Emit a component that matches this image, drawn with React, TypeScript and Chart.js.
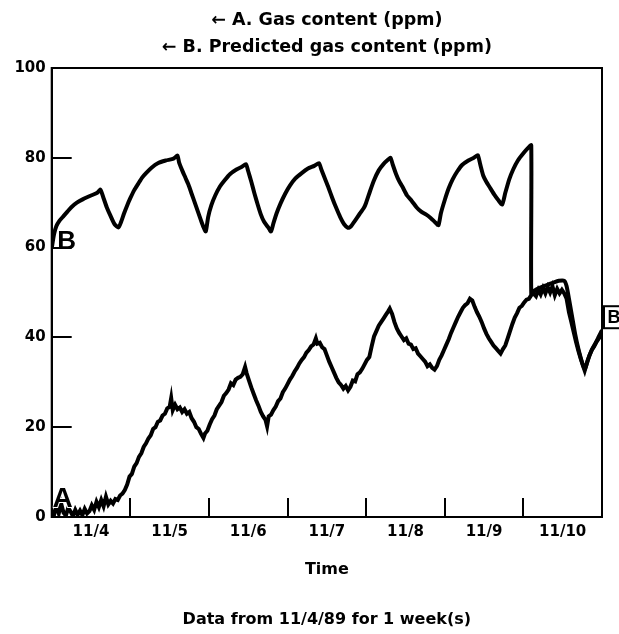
import React, { useEffect, useRef } from 'react';
import { Chart, registerables } from 'chart.js';

Chart.register(...registerables);

// ---- text ----
const titleLines = ['\u2190 A. Gas content (ppm)', '\u2190 B. Predicted gas content (ppm)'];
const xAxisTitle = 'Time';
const footerText = 'Data from 11/4/89 for 1 week(s)';
const seriesNames = ['A', 'B'];

// ---- axes ----
const dayLabels = ['11/4', '11/5', '11/6', '11/7', '11/8', '11/9', '11/10'];
const dayLabelPositions = [0.5, 1.5, 2.5, 3.5, 4.5, 5.5, 6.5];
const yTicks = [0, 20, 40, 60, 80, 100];

// ---- series A: measured gas content (days since 11/4 00:00, ppm) ----
const aTime = [
  0.00, 0.03, 0.06, 0.09, 0.12, 0.15, 0.18, 0.21, 0.24, 0.27, 0.30, 0.33, 0.36, 0.39, 0.42, 0.45,
  0.48, 0.51, 0.54, 0.57, 0.60, 0.63, 0.66, 0.69, 0.72, 0.75, 0.78, 0.81, 0.84, 0.87, 0.90, 0.93,
  0.96, 0.99, 1.02, 1.05, 1.08, 1.11, 1.14, 1.17, 1.20, 1.23, 1.26, 1.29, 1.32, 1.35, 1.38, 1.41,
  1.44, 1.47, 1.50, 1.52, 1.54, 1.57, 1.60, 1.63, 1.66, 1.69, 1.72, 1.75, 1.78, 1.81, 1.84, 1.87,
  1.90, 1.93, 1.95, 1.98, 2.01, 2.04, 2.07, 2.10, 2.13, 2.16, 2.19, 2.22, 2.25, 2.28, 2.31, 2.34,
  2.37, 2.40, 2.43, 2.46, 2.48, 2.51, 2.54, 2.57, 2.60, 2.63, 2.66, 2.69, 2.72, 2.74, 2.76, 2.79,
  2.82, 2.85, 2.88, 2.91, 2.94, 2.97, 3.00, 3.03, 3.06, 3.09, 3.12, 3.15, 3.18, 3.21, 3.24, 3.27,
  3.30, 3.33, 3.36, 3.38, 3.41, 3.44, 3.47, 3.50, 3.53, 3.56, 3.59, 3.62, 3.65, 3.68, 3.71, 3.74,
  3.77, 3.80, 3.83, 3.86, 3.89, 3.92, 3.95, 3.98, 4.01, 4.04, 4.07, 4.10, 4.13, 4.16, 4.19, 4.22,
  4.25, 4.28, 4.30, 4.33, 4.36, 4.39, 4.42, 4.45, 4.48, 4.51, 4.54, 4.57, 4.60, 4.63, 4.66, 4.69,
  4.72, 4.75, 4.78, 4.81, 4.84, 4.87, 4.90, 4.93, 4.96, 4.99, 5.02, 5.05, 5.08, 5.11, 5.14, 5.17,
  5.20, 5.23, 5.26, 5.29, 5.32, 5.35, 5.38, 5.41, 5.44, 5.47, 5.50, 5.53, 5.56, 5.59, 5.62, 5.65,
  5.68, 5.71, 5.74, 5.77, 5.80, 5.83, 5.86, 5.89, 5.92, 5.95, 5.98, 6.01, 6.04, 6.07, 6.10, 6.13,
  6.16, 6.19, 6.22, 6.25, 6.28, 6.31, 6.34, 6.37, 6.40, 6.43, 6.46, 6.49, 6.52, 6.55, 6.58, 6.61,
  6.64, 6.67, 6.70, 6.73, 6.76, 6.78, 6.81, 6.84, 6.87, 6.90, 6.93, 6.96, 7.00,
];
const aValue = [
  1.5, 0.5, 2.5, 0.8, 3.0, 1.0, 0.3, 2.0, 1.2, 0.2, 1.6, 0.5, 1.4, 0.4, 1.8, 0.8,
  1.3, 2.6, 1.6, 3.4, 2.2, 3.8, 2.4, 4.5, 2.8, 3.6, 3.0, 4.0, 3.8, 4.8, 5.2, 6.0,
  7.2, 9.0, 9.6, 11.2, 12.0, 13.4, 14.2, 15.6, 16.4, 17.5, 18.2, 19.6, 20.0, 21.2, 21.5, 22.6,
  23.0, 24.2, 24.5, 26.5, 23.8, 25.0, 24.0, 24.4, 23.4, 24.0, 23.0, 23.4, 22.0, 21.2, 20.0, 19.6,
  18.5, 17.6, 18.6, 19.2, 20.6, 21.8, 22.6, 24.0, 24.8, 25.6, 27.0, 27.6, 28.4, 29.8, 29.4, 30.6,
  31.0, 31.2, 31.8, 33.4, 32.0, 30.4, 28.8, 27.4, 26.0, 24.8, 23.4, 22.4, 21.6, 20.2, 22.4, 22.8,
  23.8, 24.6, 25.8, 26.4, 27.8, 28.6, 29.6, 30.6, 31.4, 32.4, 33.2, 34.2, 35.0, 35.6, 36.6, 37.2,
  38.0, 38.4, 39.8, 38.6, 38.8, 37.8, 37.4, 36.0, 34.6, 33.4, 32.2, 31.0, 30.0, 29.4, 28.6, 29.2,
  28.2, 29.0, 30.4, 30.2, 31.8, 32.2, 33.0, 34.0, 35.0, 35.6, 38.0, 40.2, 41.4, 42.6, 43.4, 44.2,
  45.0, 45.8, 46.4, 45.2, 43.4, 42.0, 41.0, 40.2, 39.4, 39.8, 38.6, 38.4, 37.4, 37.6, 36.4, 35.8,
  35.2, 34.6, 33.6, 34.0, 33.2, 32.8, 33.6, 35.0, 36.0, 37.2, 38.4, 39.6, 41.0, 42.2, 43.4, 44.6,
  45.6, 46.6, 47.2, 47.6, 48.6, 48.2, 46.8, 45.6, 44.6, 43.4, 42.0, 40.8, 39.8, 39.0, 38.2, 37.6,
  37.0, 36.4, 37.4, 38.2, 39.8, 41.4, 43.0, 44.4, 45.4, 46.6, 47.0, 47.8, 48.4, 48.6, 49.4, 49.8,
  49.2, 50.6, 49.6, 51.0, 49.8, 51.2, 50.0, 51.4, 49.4, 50.8, 49.8, 50.6, 49.8, 48.6, 45.6, 43.4,
  41.2, 39.0, 37.0, 35.2, 33.6, 32.6, 34.4, 36.0, 37.2, 38.0, 39.0, 39.8, 40.8,
];

// ---- series B: predicted gas content ----
const bTime = [
  0.00, 0.03, 0.06, 0.10, 0.15, 0.20, 0.25, 0.32, 0.40, 0.50, 0.58, 0.62, 0.66, 0.70, 0.75, 0.80,
  0.85, 0.88, 0.92, 0.96, 1.00, 1.05, 1.10, 1.15, 1.20, 1.27, 1.35, 1.45, 1.55, 1.60, 1.62, 1.66,
  1.70, 1.74, 1.78, 1.82, 1.86, 1.90, 1.93, 1.96, 1.99, 2.03, 2.08, 2.14, 2.20, 2.27, 2.35, 2.42,
  2.47, 2.50, 2.54, 2.58, 2.62, 2.66, 2.70, 2.75, 2.79, 2.82, 2.86, 2.91, 2.97, 3.03, 3.10, 3.18,
  3.26, 3.34, 3.40, 3.43, 3.47, 3.52, 3.57, 3.62, 3.67, 3.72, 3.77, 3.80, 3.85, 3.92, 3.97, 4.00,
  4.05, 4.10, 4.16, 4.22, 4.28, 4.31, 4.34, 4.38, 4.42, 4.46, 4.52, 4.58, 4.64, 4.70, 4.76, 4.82,
  4.88, 4.92, 4.95, 5.00, 5.05, 5.10, 5.16, 5.22, 5.30, 5.37, 5.42, 5.45, 5.49, 5.53, 5.58, 5.63,
  5.68, 5.73, 5.77, 5.82, 5.87, 5.93, 6.00, 6.06, 6.10, 6.10, 6.14, 6.20, 6.26, 6.32, 6.38, 6.45,
  6.52, 6.55, 6.58, 6.62, 6.66, 6.70, 6.74, 6.78, 6.82, 6.87, 6.92, 6.96, 7.00,
];
const bValue = [
  59.8, 63.0, 64.8, 66.0, 67.0, 68.0, 69.0, 70.0, 70.8, 71.6, 72.2, 72.9, 71.0, 69.0, 67.0, 65.2,
  64.5, 65.6, 67.6, 69.4, 71.0, 72.8, 74.2, 75.6, 76.6, 77.8, 78.8, 79.4, 79.8, 80.5, 79.0, 77.2,
  75.6, 74.0, 72.0, 70.0, 68.0, 66.0, 64.6, 63.6, 66.8, 69.4, 71.6, 73.6, 75.0, 76.4, 77.4, 78.0,
  78.6, 77.0, 74.6, 72.0, 69.6, 67.4, 65.8, 64.6, 63.6, 65.4, 67.6, 69.8, 72.0, 73.8, 75.4, 76.6,
  77.6, 78.2, 78.8, 77.4, 75.6, 73.4, 71.0, 68.8, 66.8, 65.2, 64.4, 64.6, 65.8, 67.6, 68.8, 70.0,
  72.6, 75.0, 77.2, 78.6, 79.6, 80.0, 78.4, 76.4, 74.8, 73.6, 71.6, 70.4, 69.0, 68.0, 67.4, 66.6,
  65.6, 65.0, 67.6, 70.6, 73.2, 75.2, 77.0, 78.4, 79.4, 80.0, 80.6, 78.6, 76.0, 74.6, 73.2, 71.8,
  70.6, 69.6, 72.2, 75.2, 77.4, 79.4, 81.0, 82.2, 82.8, 49.8, 50.4, 51.0, 51.4, 51.8, 52.2, 52.6,
  52.6, 51.4, 48.6, 44.6, 40.6, 37.4, 34.8, 32.8, 35.0, 37.2, 38.8, 40.2, 41.6,
];

const INK = '#000000';
const FONT = 'DejaVu Sans';

const framePlugin = {
  id: 'frame',
  afterDraw(chart: any) {
    const { ctx, chartArea } = chart;
    ctx.save();
    ctx.strokeStyle = INK;
    ctx.lineWidth = 2;
    ctx.strokeRect(chartArea.left, chartArea.top, chartArea.right - chartArea.left, chartArea.bottom - chartArea.top);
    ctx.restore();
  },
};

const seriesLabelPlugin = {
  id: 'seriesLabels',
  afterDatasetsDraw(chart: any) {
    const { ctx } = chart;
    const xs = chart.scales.x;
    const ys = chart.scales.y;
    ctx.save();
    ctx.fillStyle = INK;
    ctx.textAlign = 'center';
    ctx.textBaseline = 'middle';
    // A at start of series A (white halo so it reads over the noisy trace)
    const ax = xs.getPixelForValue(aTime[0]);
    const ay = ys.getPixelForValue(aValue[0]);
    ctx.font = 'bold 28px "Liberation Sans"';
    ctx.lineWidth = 2;
    ctx.strokeStyle = '#ffffff';
    ctx.strokeText(seriesNames[0], ax + 11, ay - 11);
    ctx.fillText(seriesNames[0], ax + 11, ay - 11);
    // B at start of series B
    const bx = xs.getPixelForValue(bTime[0]);
    const by = ys.getPixelForValue(bValue[0]);
    ctx.font = 'bold 26px "Liberation Sans"';
    ctx.fillText(seriesNames[1], bx + 15, by - 7);
    // boxed B at end of series B
    const ex = xs.getPixelForValue(bTime[bTime.length - 1]);
    const ey = ys.getPixelForValue(bValue[bValue.length - 1]);
    ctx.fillStyle = '#ffffff';
    ctx.fillRect(ex + 2, ey - 24, 20, 22);
    ctx.strokeStyle = INK;
    ctx.lineWidth = 2;
    ctx.strokeRect(ex + 2, ey - 24, 20, 22);
    ctx.fillStyle = INK;
    ctx.font = 'bold 18px "Liberation Sans"';
    ctx.fillText(seriesNames[1], ex + 12, ey - 12);
    ctx.restore();
  },
};

export default function App() {
  const canvasRef = useRef<HTMLCanvasElement | null>(null);

  useEffect(() => {
    const canvas = canvasRef.current;
    if (!canvas) return;
    const dataA = aTime.map((t, i) => ({ x: t, y: aValue[i] }));
    const dataB = bTime.map((t, i) => ({ x: t, y: bValue[i] }));

    const chart = new Chart(canvas, {
      type: 'line',
      data: {
        datasets: [
          {
            label: seriesNames[0],
            data: dataA,
            borderColor: INK,
            borderWidth: 4,
            pointRadius: 0,
            tension: 0,
            fill: false,
          },
          {
            label: seriesNames[1],
            data: dataB,
            borderColor: INK,
            borderWidth: 4,
            pointRadius: 0,
            tension: 0.2,
            fill: false,
          },
        ],
      },
      options: {
        animation: false,
        responsive: false,
        maintainAspectRatio: false,
        layout: { padding: { left: 0, right: 17, top: 0, bottom: 0 } },
        plugins: {
          legend: { display: false },
          tooltip: { enabled: false },
          title: {
            display: true,
            text: titleLines,
            fullSize: false,
            color: INK,
            font: { family: FONT, weight: 'bold', size: 17.5, lineHeight: 1.543 },
            padding: { top: 6.5, bottom: 7.5 },
          },
          subtitle: {
            display: true,
            position: 'bottom',
            text: footerText,
            fullSize: false,
            color: INK,
            font: { family: FONT, weight: 'bold', size: 16, lineHeight: 1.2 },
            padding: { top: 0, bottom: 4.4 },
          },
        },
        scales: {
          x: {
            type: 'linear',
            min: 0,
            max: 7,
            afterBuildTicks: (s: any) => {
              s.ticks = dayLabelPositions.map((v) => ({ value: v }));
            },
            afterFit: (s: any) => {
              s.height = 93.4;
            },
            ticks: {
              callback: (_v: any, i: number) => dayLabels[i],
              color: INK,
              font: { family: FONT, weight: 'bold', size: 15 },
              padding: 25,
              maxRotation: 0,
              autoSkip: false,
            },
            grid: {
              display: true,
              drawOnChartArea: false,
              drawTicks: true,
              tickLength: -19,
              offset: true,
              color: INK,
              lineWidth: 2,
              tickColor: INK,
              tickWidth: 2,
            },
            border: { display: true, color: INK, width: 2 },
            title: {
              display: true,
              text: xAxisTitle,
              color: INK,
              font: { family: FONT, weight: 'bold', size: 16, lineHeight: 1.2 },
              padding: { top: 0, bottom: 30.8 },
            },
          },
          y: {
            type: 'linear',
            min: 0,
            max: 100,
            afterBuildTicks: (s: any) => {
              s.ticks = yTicks.map((v) => ({ value: v }));
            },
            afterFit: (s: any) => {
              s.width = 51.7;
            },
            ticks: {
              color: INK,
              font: { family: FONT, weight: 'bold', size: 15 },
              padding: 26,
            },
            grid: {
              display: true,
              drawOnChartArea: false,
              drawTicks: true,
              tickLength: -20,
              color: INK,
              lineWidth: 2,
              tickColor: INK,
              tickWidth: 2,
            },
            border: { display: true, color: INK, width: 2 },
          },
        },
      },
      plugins: [framePlugin, seriesLabelPlugin],
    } as any);

    return () => {
      chart.destroy();
    };
  }, []);

  return (
    <div style={{ position: 'absolute', left: 0, top: 0, width: 619, height: 634, background: '#ffffff' }}>
      <canvas ref={canvasRef} width={619} height={634} style={{ display: 'block', width: 619, height: 634 }} />
    </div>
  );
}
